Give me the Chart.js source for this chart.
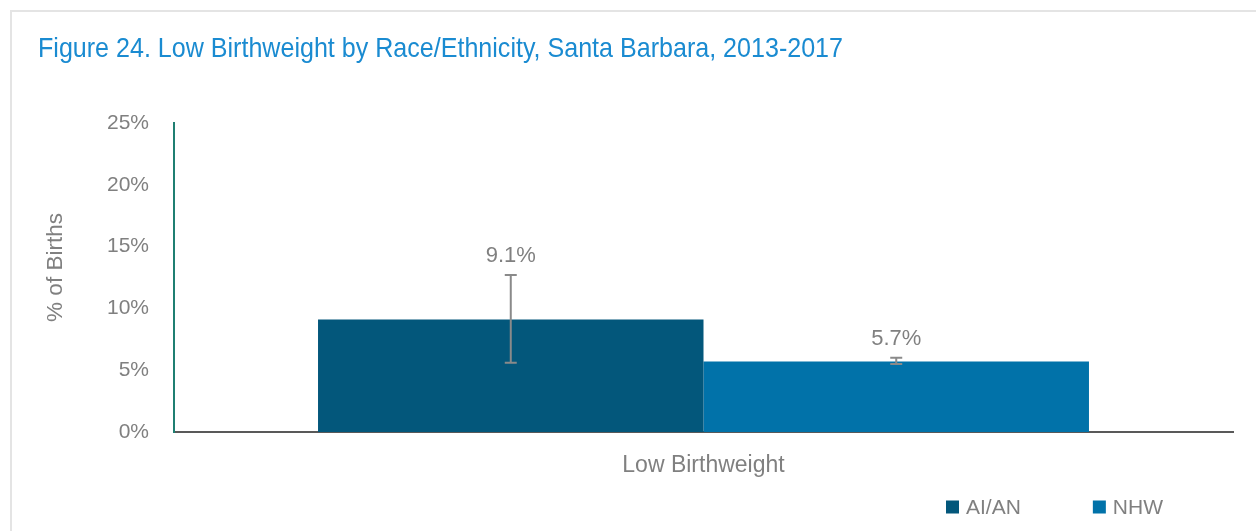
<!DOCTYPE html>
<html>
<head>
<meta charset="utf-8">
<script src="https://cdn.jsdelivr.net/npm/chart.js@4/dist/chart.umd.min.js"></script>
<style>
  html, body { margin: 0; padding: 0; background: #ffffff; }
  #wrap { position: relative; width: 1256px; height: 531px; overflow: hidden; }
  #frame { position: absolute; left: 10px; top: 10px; width: 1400px; height: 700px;
           border-left: 2px solid #e4e4e4; border-top: 2px solid #e4e4e4; }
  #c { position: absolute; left: 0; top: 0; }
</style>
</head>
<body>
<div id="wrap">
  <div id="frame"></div>
  <canvas id="c" width="1256" height="531"></canvas>
</div>
<script>
// ---- data ----
const categories = ['Low Birthweight'];
const seriesLabels = ['AI/AN', 'NHW'];
const aianValues = [9.1];
const nhwValues = [5.7];
const aianLower = [5.6];
const aianUpper = [12.7];
const nhwLower = [5.5];
const nhwUpper = [6.0];
const yTickValues = [0, 5, 10, 15, 20, 25];
const titleText = 'Figure 24. Low Birthweight by Race/Ethnicity, Santa Barbara, 2013-2017';
const yAxisTitle = '% of Births';

const colors = ['#03577b', '#0172a9'];
const grayText = '#808080';
const sans = '"Liberation Sans", Arial, sans-serif';

// narrow-looking title (Arial Narrow style) and y-axis title drawn as canvas text
const titlePlugin = {
  id: 'narrowTitle',
  afterDraw(chart) {
    const ctx = chart.ctx;
    ctx.save();
    ctx.font = '28px ' + sans;
    const w = ctx.measureText(titleText).width;
    const sx = 805 / w;
    ctx.translate(38, 57);
    ctx.scale(sx, 1);
    ctx.fillStyle = '#1a8bd1';
    ctx.textAlign = 'left';
    ctx.textBaseline = 'alphabetic';
    ctx.fillText(titleText, 0, 0);
    ctx.restore();

    const ca = chart.chartArea;
    ctx.save();
    ctx.translate(56, (ca.top + ca.bottom) / 2 - 10);
    ctx.rotate(-Math.PI / 2);
    ctx.font = '22.5px ' + sans;
    ctx.fillStyle = grayText;
    ctx.textAlign = 'center';
    ctx.textBaseline = 'middle';
    ctx.fillText(yAxisTitle, 0, 0);
    ctx.restore();
  }
};

const errorBarsPlugin = {
  id: 'errorBarsLabels',
  afterDatasetsDraw(chart) {
    const ctx = chart.ctx;
    const ys = chart.scales.y;
    chart.data.datasets.forEach((ds, di) => {
      const meta = chart.getDatasetMeta(di);
      meta.data.forEach((bar, i) => {
        const lo = ds.lower[i], hi = ds.upper[i];
        const x = bar.x;
        const yLo = ys.getPixelForValue(lo);
        const yHi = ys.getPixelForValue(hi);
        ctx.save();
        ctx.strokeStyle = '#8a8a8a';
        ctx.lineWidth = 2;
        ctx.beginPath();
        ctx.moveTo(x, yLo); ctx.lineTo(x, yHi);
        ctx.moveTo(x - 6, yLo); ctx.lineTo(x + 6, yLo);
        ctx.moveTo(x - 6, yHi); ctx.lineTo(x + 6, yHi);
        ctx.stroke();
        ctx.fillStyle = grayText;
        ctx.font = '22px ' + sans;
        ctx.textAlign = 'center';
        ctx.textBaseline = 'bottom';
        ctx.fillText(ds.data[i].toFixed(1) + '%', x, Math.min(yHi, bar.y) - 8);
        ctx.restore();
      });
    });
  }
};

const legendPlugin = {
  id: 'customLegend',
  afterDraw(chart) {
    const ctx = chart.ctx;
    ctx.save();
    ctx.font = '21px ' + sans;
    const box = 13, textGap = 7, itemGap = 72;
    const items = chart.data.datasets.map(d => ({ label: d.label, color: d.backgroundColor,
      w: box + textGap + ctx.measureText(d.label).width }));
    const total = items.reduce((a, b) => a + b.w, 0) + itemGap * (items.length - 1);
    let x = chart.width - 93 - total;
    const yc = 507;
    items.forEach(it => {
      ctx.fillStyle = it.color;
      ctx.fillRect(x, yc - box / 2, box, box);
      ctx.fillStyle = grayText;
      ctx.textAlign = 'left';
      ctx.textBaseline = 'middle';
      ctx.fillText(it.label, x + box + textGap, yc + 1);
      x += it.w + itemGap;
    });
    ctx.restore();
  }
};

new Chart(document.getElementById('c'), {
  type: 'bar',
  data: {
    labels: categories,
    datasets: [
      { label: seriesLabels[0], data: aianValues, lower: aianLower, upper: aianUpper,
        backgroundColor: colors[0], categoryPercentage: 0.728, barPercentage: 1.0 },
      { label: seriesLabels[1], data: nhwValues, lower: nhwLower, upper: nhwUpper,
        backgroundColor: colors[1], categoryPercentage: 0.728, barPercentage: 1.0 }
    ]
  },
  options: {
    responsive: false,
    animation: false,
    events: [],
    layout: { padding: { left: 38, right: 23, top: 123, bottom: 0 } },
    plugins: {
      legend: { display: false },
      tooltip: { enabled: false },
      title: { display: false }
    },
    scales: {
      x: {
        grid: { display: false, drawTicks: false },
        border: { display: true, color: '#595959', width: 2 },
        ticks: { color: grayText, padding: 20, font: { family: sans, size: 23 } },
        afterFit(s) { s.height = 99; }
      },
      y: {
        min: 0, max: 25,
        afterBuildTicks(s) { s.ticks = yTickValues.map(v => ({ value: v })); },
        grid: { display: false, drawTicks: false },
        border: { display: true, color: '#1f7f72', width: 2 },
        ticks: { color: grayText, padding: 25, font: { family: sans, size: 21 },
                 callback: v => v + '%' },
        title: { display: false },
        afterFit(s) { s.width = 136; }
      }
    }
  },
  plugins: [errorBarsPlugin, legendPlugin, titlePlugin]
});
</script>
</body>
</html>
